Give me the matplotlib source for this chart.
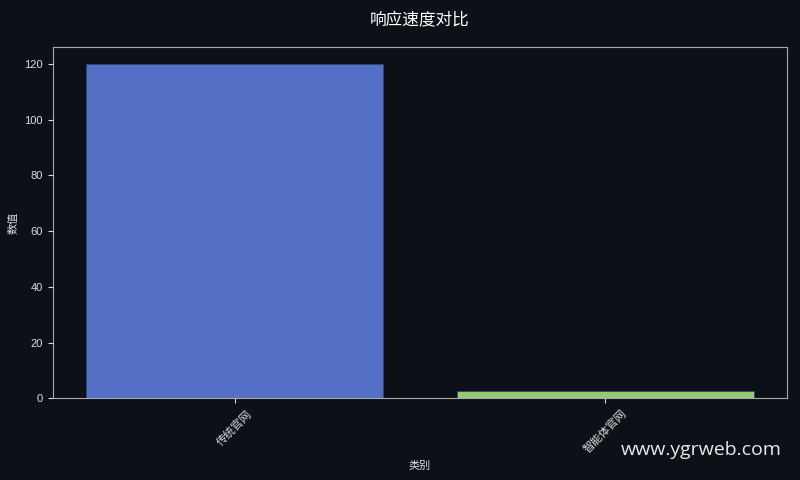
import matplotlib
matplotlib.use('Agg')
import matplotlib.pyplot as plt

# 数据
categories = ['传统官网', '智能体官网']
values = [120, 2.5]
bar_colors = ['#5470c6', '#91cc75']

plt.rcParams['font.family'] = ['Liberation Sans', 'Noto Sans CJK SC', 'DejaVu Sans']

bg = '#0d1017'
fig, ax = plt.subplots(figsize=(8, 4.8), dpi=100)
fig.patch.set_facecolor(bg)
ax.set_facecolor(bg)

ax.bar(categories, values, color=bar_colors, width=0.8, edgecolor='#34446e', linewidth=0.6)

ax.set_title('响应速度对比', color='white', fontsize=12, pad=16)
ax.set_xlabel('类别', color='#dddddd', fontsize=8)
ax.set_ylabel('数值', color='#dddddd', fontsize=8)
ax.tick_params(colors='#dddddd', labelsize=8)
plt.setp(ax.get_xticklabels(), rotation=45)
for s in ax.spines.values():
    s.set_color('#aaaaaa')

fig.subplots_adjust(left=0.066, right=0.984, top=0.902, bottom=0.17)
fig.text(0.977, 0.043, 'www.ygrweb.com', color='#e8e8e8', fontsize=14,
         family='Open Sans', ha='right', va='bottom')

plt.savefig('out.png', facecolor=bg)
